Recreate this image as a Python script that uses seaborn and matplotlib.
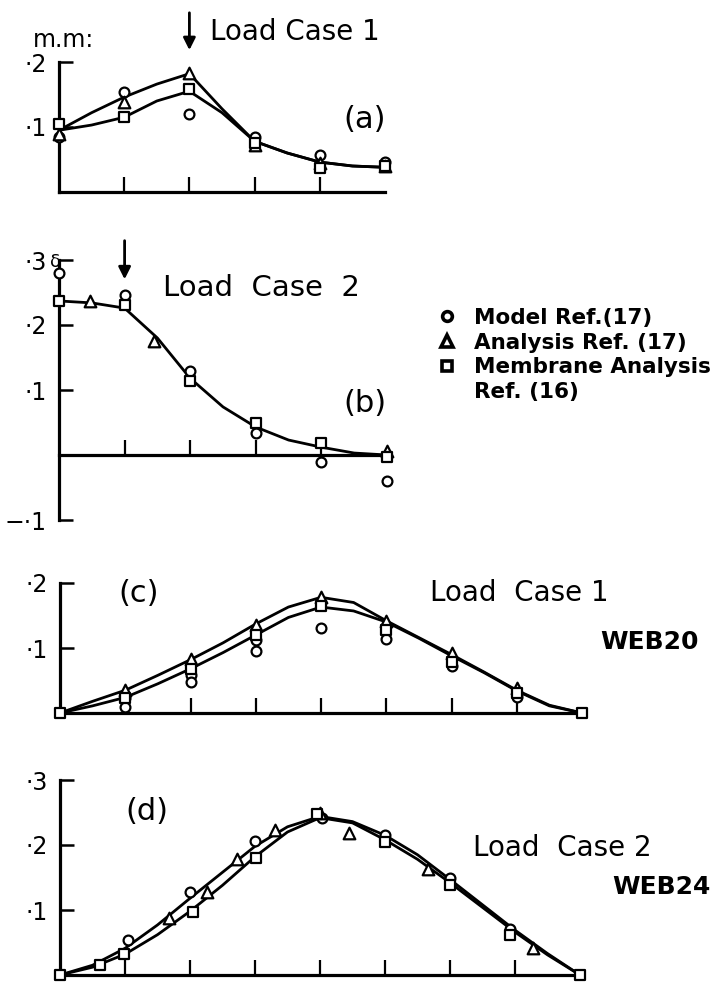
import numpy as np
import pandas as pd
import matplotlib.pyplot as plt
import seaborn as sns
from matplotlib.lines import Line2D

# --- panel (a): load case 1, x = 0..5 ---
a_curve_x = [0, 0.5, 1, 1.5, 2, 2.5, 3, 3.5, 4, 4.5, 5]
a_upper = [0.095, 0.122, 0.146, 0.166, 0.182, 0.128, 0.078, 0.06, 0.046, 0.04, 0.038]
a_lower = [0.095, 0.103, 0.115, 0.14, 0.155, 0.122, 0.078, 0.06, 0.046, 0.04, 0.038]
a_model_x = [0, 1, 2, 3, 4, 5]
a_model_y = [0.085, 0.154, 0.12, 0.085, 0.057, 0.046]
a_anal_x = [0, 1, 2, 3, 4, 5]
a_anal_y = [0.09, 0.138, 0.183, 0.072, 0.045, 0.04]
a_memb_x = [0, 1, 2, 3, 4, 5]
a_memb_y = [0.105, 0.115, 0.158, 0.075, 0.037, 0.04]

# --- panel (b): load case 2, x = 0..5 ---
b_curve_x = [0, 0.5, 1, 1.5, 2, 2.5, 3, 3.5, 4, 4.5, 5]
b_curve = [0.237, 0.234, 0.226, 0.18, 0.118, 0.074, 0.043, 0.023, 0.012, 0.003, 0.0]
b_model_x = [0, 1, 2, 3, 4, 5]
b_model_y = [0.28, 0.246, 0.129, 0.034, -0.01, -0.04]
b_anal_x = [0.47, 1.45, 5]
b_anal_y = [0.237, 0.175, 0.006]
b_memb_x = [0, 1, 2, 3, 4, 5]
b_memb_y = [0.237, 0.231, 0.114, 0.049, 0.018, -0.003]

# --- panel (c): WEB20 load case 1, x = 0..8 ---
c_curve_x = [0, 0.5, 1, 1.5, 2, 2.5, 3, 3.5, 4, 4.5, 5, 5.5, 6, 6.5, 7, 7.5, 8]
c_upper = [0, 0.018, 0.035, 0.058, 0.082, 0.108, 0.137, 0.163, 0.178, 0.17, 0.142,
           0.116, 0.09, 0.063, 0.035, 0.012, 0]
c_lower = [0, 0.011, 0.024, 0.045, 0.068, 0.093, 0.12, 0.147, 0.163, 0.157, 0.14,
           0.115, 0.088, 0.062, 0.034, 0.011, 0]
c_model_x = [1, 1, 2, 2, 3, 3, 4, 5, 6, 7]
c_model_y = [0.023, 0.01, 0.059, 0.047, 0.113, 0.096, 0.131, 0.114, 0.072, 0.025]
c_anal_x = [1, 2, 3, 4, 5, 6, 7]
c_anal_y = [0.036, 0.083, 0.136, 0.179, 0.141, 0.093, 0.038]
c_memb_x = [0, 1, 2, 3, 4, 5, 6, 7, 8]
c_memb_y = [0, 0.023, 0.067, 0.12, 0.164, 0.128, 0.079, 0.031, 0]

# --- panel (d): WEB24 load case 2, x = 0..8 ---
d_curve_x = [0, 0.5, 1, 1.5, 2, 2.5, 3, 3.5, 4, 4.5, 5, 5.5, 6, 6.5, 7, 7.5, 8]
d_upper = [0, 0.015, 0.041, 0.077, 0.118, 0.158, 0.198, 0.228, 0.244, 0.236, 0.215,
           0.185, 0.147, 0.108, 0.069, 0.033, 0]
d_lower = [0, 0.012, 0.032, 0.062, 0.098, 0.138, 0.182, 0.22, 0.242, 0.234, 0.208,
           0.178, 0.142, 0.104, 0.066, 0.031, 0]
d_model_x = [1.04, 2.0, 3.0, 4.03, 5.0, 6.0, 6.92]
d_model_y = [0.054, 0.127, 0.206, 0.241, 0.215, 0.15, 0.071]
d_anal_x = [1.68, 2.26, 2.73, 3.31, 4.0, 4.45, 5.66, 7.28]
d_anal_y = [0.088, 0.128, 0.178, 0.223, 0.25, 0.218, 0.163, 0.042]
d_memb_x = [0, 0.62, 0.98, 2.04, 3.02, 3.95, 5.0, 6.0, 6.92, 8]
d_memb_y = [0, 0.016, 0.032, 0.097, 0.18, 0.247, 0.205, 0.138, 0.062, 0]

legend_labels = ['Model Ref.(17)', 'Analysis Ref. (17)', 'Membrane Analysis', 'Ref. (16)']

W, H = 715, 985

sns.set_style('white')
plt.rcParams['font.family'] = ['DejaVu Sans']
plt.rcParams['text.color'] = 'black'
plt.rcParams['xtick.color'] = 'black'
plt.rcParams['ytick.color'] = 'black'
plt.rcParams['xtick.direction'] = 'in'
plt.rcParams['ytick.direction'] = 'in'


def rect(left, right, top, bottom):
    # pixel box -> figure fraction
    return [left / W, 1 - bottom / H, (right - left) / W, (bottom - top) / H]


def fxy(x, y):
    return x / W, 1 - y / H


def panel(ax, cx, curves, pts, xlim, ylim, yticks, ylabels, xticks):
    for cy in curves:
        sns.lineplot(x=cx, y=cy, ax=ax, color='black', lw=2.0, estimator=None, zorder=2)
    for (px, py), m, s in zip(pts, ['o', '^', 's'], [50, 70, 55]):
        sns.scatterplot(x=px, y=py, ax=ax, marker=m, s=s, color='white',
                        edgecolor='black', linewidth=1.6, zorder=4, clip_on=False)
    ax.set_xlim(*xlim)
    ax.set_ylim(*ylim)
    for side in ['top', 'right']:
        ax.spines[side].set_visible(False)
    for side in ['left', 'bottom']:
        ax.spines[side].set_linewidth(2.3)
        ax.spines[side].set_color('black')
    ax.set_xticks(xticks)
    ax.set_xticklabels([])
    ax.set_yticks(yticks)
    ax.set_yticklabels(ylabels, fontsize=17, color='black')
    ax.tick_params(axis='x', bottom=True, top=False, direction='in', length=11, width=1.6)
    ax.tick_params(axis='y', left=True, right=False, direction='in', length=10, width=1.8, pad=9)
    ax.set_xlabel('')
    ax.set_ylabel('')
    ax.patch.set_alpha(0)


fig = plt.figure(figsize=(7.15, 9.85), dpi=100)

ax_a = fig.add_axes(rect(59, 385, 62, 192))
panel(ax_a, a_curve_x, [a_upper, a_lower],
      [(a_model_x, a_model_y), (a_anal_x, a_anal_y), (a_memb_x, a_memb_y)],
      (0, 5), (0, 0.2), [0.1, 0.2], ['·1', '·2'], [1, 2, 3, 4])
ax_a.annotate('', xy=(2, 0.214), xytext=(2, 0.28), annotation_clip=False,
              arrowprops=dict(arrowstyle='-|>', color='black', lw=2, mutation_scale=18))

ax_b = fig.add_axes(rect(59, 387, 260, 520))
panel(ax_b, b_curve_x, [b_curve],
      [(b_model_x, b_model_y), (b_anal_x, b_anal_y), (b_memb_x, b_memb_y)],
      (0, 5), (-0.1, 0.3), [-0.1, 0.1, 0.2, 0.3], ['−·1', '·1', '·2', '·3'], [1, 2, 3, 4])
ax_b.spines['bottom'].set_position(('data', 0))
ax_b.annotate('', xy=(1, 0.266), xytext=(1, 0.334), annotation_clip=False,
              arrowprops=dict(arrowstyle='-|>', color='black', lw=2, mutation_scale=18))

ax_c = fig.add_axes(rect(60, 582, 583, 713))
panel(ax_c, c_curve_x, [c_upper, c_lower],
      [(c_model_x, c_model_y), (c_anal_x, c_anal_y), (c_memb_x, c_memb_y)],
      (0, 8), (0, 0.2), [0.1, 0.2], ['·1', '·2'], list(range(1, 8)))

ax_d = fig.add_axes(rect(60, 580, 780, 975))
panel(ax_d, d_curve_x, [d_upper, d_lower],
      [(d_model_x, d_model_y), (d_anal_x, d_anal_y), (d_memb_x, d_memb_y)],
      (0, 8), (0, 0.3), [0.1, 0.2, 0.3], ['·1', '·2', '·3'], list(range(1, 8)))

# panel texts
fig.text(*fxy(33, 40), 'm.m:', fontsize=17, va='center', ha='left')
fig.text(*fxy(210, 32), 'Load Case 1', fontsize=20, va='center', ha='left')
fig.text(*fxy(343, 120), '(a)', fontsize=22, va='center', ha='left')
fig.text(*fxy(50, 262), 'δ', fontsize=13, va='center', ha='left')
fig.text(*fxy(163, 288), 'Load  Case  2', fontsize=21, va='center', ha='left')
fig.text(*fxy(343, 403), '(b)', fontsize=22, va='center', ha='left')
fig.text(*fxy(118, 593), '(c)', fontsize=22, va='center', ha='left')
fig.text(*fxy(430, 593), 'Load  Case 1', fontsize=20, va='center', ha='left')
fig.text(*fxy(600, 642), 'WEB20', fontsize=18, fontweight='bold', va='center', ha='left')
fig.text(*fxy(125, 812), '(d)', fontsize=22, va='center', ha='left')
fig.text(*fxy(473, 848), 'Load  Case 2', fontsize=20, va='center', ha='left')
fig.text(*fxy(612, 887), 'WEB24', fontsize=18, fontweight='bold', va='center', ha='left')

# legend
handles = [
    Line2D([], [], ls='none', marker='o', ms=7, mfc='white', mec='black', mew=2.6),
    Line2D([], [], ls='none', marker='^', ms=8, mfc='white', mec='black', mew=2.6),
    Line2D([], [], ls='none', marker='s', ms=7, mfc='white', mec='black', mew=2.6),
    Line2D([], [], ls='none', marker=None),
]
fig.legend(handles, legend_labels, loc='upper left', bbox_to_anchor=fxy(436, 308),
           frameon=False, prop={'weight': 'bold', 'size': 15.5}, labelspacing=0.22,
           handlelength=1.0, handletextpad=0.75, borderpad=0, borderaxespad=0)

fig.savefig('out.png', dpi=100)
